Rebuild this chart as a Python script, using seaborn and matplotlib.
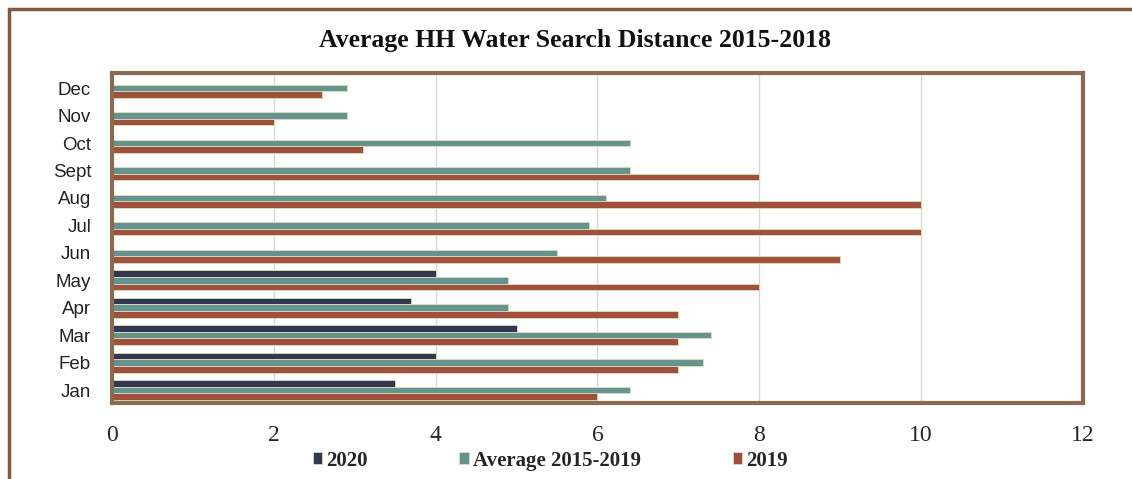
import matplotlib.pyplot as plt
import matplotlib.lines as mlines
import numpy as np
import pandas as pd
import seaborn as sns

months = ["Jan", "Feb", "Mar", "Apr", "May", "Jun",
          "Jul", "Aug", "Sept", "Oct", "Nov", "Dec"]
vals_2020 = [3.5, 4.0, 5.0, 3.7, 4.0, np.nan,
             np.nan, np.nan, np.nan, np.nan, np.nan, np.nan]
vals_avg = [6.4, 7.3, 7.4, 4.9, 4.9, 5.5, 5.9, 6.1, 6.4, 6.4, 2.9, 2.9]
vals_2019 = [6.0, 7.0, 7.0, 7.0, 8.0, 9.0, 10.0, 10.0, 8.0, 3.1, 2.0, 2.6]
series = ["2020", "Average 2015-2019", "2019"]
colors = ["#2f3357", "#5f9a96", "#b0452f"]


def main():
    sns.set_theme(style="white")

    df = pd.DataFrame({"month": months, "2020": vals_2020,
                       "Average 2015-2019": vals_avg, "2019": vals_2019})
    df = df.melt(id_vars="month", var_name="series", value_name="distance")

    fig = plt.figure(figsize=(11.32, 4.79), dpi=100)
    ax = fig.add_axes([0.0989, 0.1587, 0.8578, 0.6889])

    sns.barplot(data=df, y="month", x="distance", hue="series",
                order=months[::-1], hue_order=series,
                palette=colors, orient="h", width=0.72,
                edgecolor="#d6e2b4", linewidth=0.6, ax=ax)

    ax.set_xlim(0, 12)
    ax.set_ylim(11.47, -0.55)
    ax.set_xticks(range(0, 13, 2))
    ax.xaxis.grid(True, color="#d9d9d9", linewidth=1)
    ax.set_axisbelow(True)
    ax.set_xlabel("")
    ax.set_ylabel("")
    for s in ax.spines.values():
        s.set_color("#8a6a52")
        s.set_linewidth(3)
    ax.tick_params(axis="both", length=0)
    ax.tick_params(axis="x", pad=16)
    ax.tick_params(axis="y", pad=15)
    for lbl in ax.get_xticklabels():
        lbl.set_fontfamily("Liberation Serif")
        lbl.set_fontsize(17)
    for lbl in ax.get_yticklabels():
        lbl.set_fontfamily("Liberation Sans")
        lbl.set_fontsize(13.5)
        lbl.set_color("#222222")

    fig.text(0.508, 0.915, "Average HH Water Search Distance 2015-2018",
             ha="center", va="center", fontsize=18.5, fontweight="bold",
             family="Liberation Serif", color="#111111")

    handles, labels = ax.get_legend_handles_labels()
    ax.legend(handles, labels, loc="center", bbox_to_anchor=(0.486, 0.038),
              bbox_transform=fig.transFigure, ncol=3, frameon=False,
              handlelength=0.45, handleheight=0.5, handletextpad=0.2,
              columnspacing=4.4,
              prop={"family": "Liberation Serif", "weight": "bold", "size": 15})

    # outer frame lines (left and top)
    fig.add_artist(mlines.Line2D([8.5 / 1132, 8.5 / 1132], [0, 1 - 8.5 / 479],
                                 transform=fig.transFigure,
                                 color="#7d5a3c", linewidth=2.5))
    fig.add_artist(mlines.Line2D([8.5 / 1132, 1], [1 - 8.5 / 479, 1 - 8.5 / 479],
                                 transform=fig.transFigure,
                                 color="#7d5a3c", linewidth=2.5))

    fig.savefig("out.png", dpi=100)
    plt.close(fig)


if __name__ == '__main__':
    main()
